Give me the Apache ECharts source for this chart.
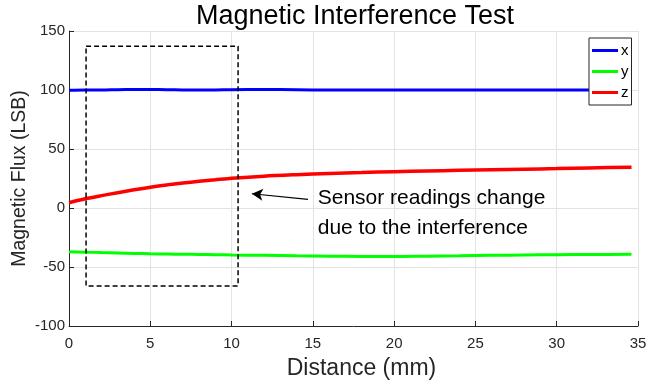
<!DOCTYPE html>
<html>
<head>
<meta charset="utf-8">
<script src="https://cdn.jsdelivr.net/npm/echarts@6/dist/echarts.min.js"></script>
<style>html,body{margin:0;padding:0;background:#fff}#c{width:649px;height:387px}</style>
</head>
<body>
<div id="c"></div>
<script>
// ---- data ----
const xDist = [0, 1, 2, 3, 4, 5, 6, 7, 8, 9, 10, 12, 14, 16, 18, 20, 22, 24, 26, 28, 30, 32, 34.6];
const xFlux = [99.8, 100, 100, 100.3, 100.4, 100.4, 100.3, 100.1, 100, 100.1, 100.2, 100.4, 100.2, 100, 100, 100, 100, 100, 100, 100, 100, 100, 100];
const yFlux = [-37, -37.4, -37.8, -38.1, -38.5, -38.8, -39, -39.2, -39.4, -39.6, -39.8, -40.1, -40.5, -40.8, -41, -41.1, -40.8, -40.5, -40.1, -39.8, -39.6, -39.4, -39.2];
const zFlux = [4.5, 7.8, 10.5, 13, 15.4, 17.6, 19.5, 21.1, 22.6, 23.9, 25.2, 27, 28.2, 29.2, 30, 30.8, 31.4, 31.9, 32.4, 32.9, 33.4, 34, 34.6];
const seriesNames = ['x', 'y', 'z'];
const boxX = [1.05, 10.4, 10.4, 1.05, 1.05];
const boxY = [137, 137, -66, -66, 137];
const arrowFrom = [14.7, 7.3];
const arrowTo = [11.25, 12.1];
const noteAt = [15.3, 8.0];
const noteLines = ['Sensor readings change', 'due to the interference'];
const xTicks = {min: 0, max: 35, interval: 5};
const yTicks = {min: -100, max: 150, interval: 50};

const FONT = '"Liberation Sans", Arial, sans-serif';
const AX = '#262626';
const chart = echarts.init(document.getElementById('c'), null, {renderer: 'canvas'});
const pairs = (xs, ys) => xs.map((v, i) => [v, ys[i]]);

const option = {
  animation: false,
  backgroundColor: '#fff',
  title: {
    text: 'Magnetic Interference Test',
    left: 350, top: -2, textAlign: 'center',
    textStyle: {fontFamily: FONT, fontSize: 27, fontWeight: 'normal', color: '#000'}
  },
  grid: {left: 69, right: 11, top: 31, bottom: 61, containLabel: false, outerBoundsMode: 'none'},
  legend: {
    data: seriesNames,
    orient: 'vertical',
    left: 589, top: 38,
    padding: [5, 3, 5, 3],
    itemGap: 6,
    itemWidth: 26, itemHeight: 3,
    icon: 'rect',
    itemStyle: {borderWidth: 0},
    backgroundColor: '#fff',
    borderColor: '#262626', borderWidth: 1,
    textStyle: {fontFamily: FONT, fontSize: 15, color: '#000', lineHeight: 14, padding: [0, 0, 0, -2]}
  },
  xAxis: {
    type: 'value', min: xTicks.min, max: xTicks.max, interval: xTicks.interval,
    name: 'Distance (mm)', nameLocation: 'middle', nameGap: 31, nameMoveOverlap: false,
    nameTextStyle: {fontFamily: FONT, fontSize: 23, color: AX, padding: [0, 0, 0, 16]},
    axisLine: {show: true, onZero: false, lineStyle: {color: AX, width: 1}},
    axisTick: {show: true, inside: true, length: 5, lineStyle: {color: AX}},
    axisLabel: {fontFamily: FONT, fontSize: 15, color: AX, margin: 10},
    splitLine: {show: true, lineStyle: {color: '#e3e3e3', width: 1}}
  },
  yAxis: {
    type: 'value', min: yTicks.min, max: yTicks.max, interval: yTicks.interval,
    name: 'Magnetic Flux (LSB)', nameLocation: 'middle', nameGap: 39, nameMoveOverlap: false,
    nameTextStyle: {fontFamily: FONT, fontSize: 19.5, color: AX},
    axisLine: {show: true, onZero: false, lineStyle: {color: AX, width: 1}},
    axisTick: {show: true, inside: true, length: 5, lineStyle: {color: AX}},
    axisLabel: {fontFamily: FONT, fontSize: 15, color: AX, margin: 4},
    splitLine: {show: true, lineStyle: {color: '#e3e3e3', width: 1}}
  },
  series: [
    {name: 'x', type: 'line', data: pairs(xDist, xFlux), showSymbol: false, smooth: 0.3,
     lineStyle: {color: '#0000ff', width: 3}, itemStyle: {color: '#0000ff'}, z: 3},
    {name: 'y', type: 'line', data: pairs(xDist, yFlux), showSymbol: false, smooth: 0.3,
     lineStyle: {color: '#00ff00', width: 3}, itemStyle: {color: '#00ff00'}, z: 3},
    {name: 'z', type: 'line', data: pairs(xDist, zFlux), showSymbol: false, smooth: 0.3,
     lineStyle: {color: '#ff0000', width: 3.5}, itemStyle: {color: '#ff0000'}, z: 3},
    {name: 'box', type: 'line', data: pairs(boxX, boxY), showSymbol: false, silent: true,
     lineStyle: {color: '#000', width: 1.5, type: [5, 3]}, z: 4,
     markLine: {
       silent: true, animation: false,
       label: {show: false},
       lineStyle: {color: '#000', width: 1.2, type: 'solid'},
       symbol: ['none', 'arrow'], symbolSize: [9, 11],
       data: [[{coord: arrowFrom}, {coord: arrowTo}]]
     }}
  ]
};
chart.setOption(option);

const p = chart.convertToPixel({gridIndex: 0}, noteAt);
chart.setOption({
  graphic: [{
    type: 'text', left: p[0], top: p[1] - 15,
    style: {text: noteLines.join('\n'), font: '21px ' + FONT, fill: '#000', lineHeight: 30}
  }]
});
</script>
</body>
</html>
